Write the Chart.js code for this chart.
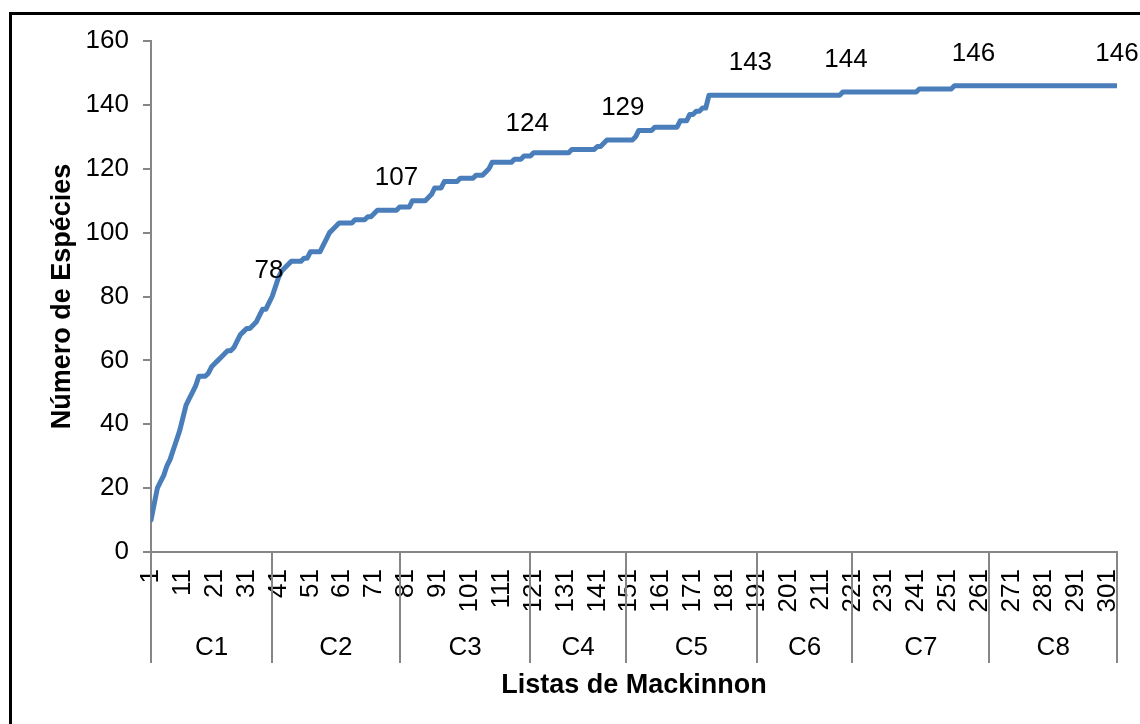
<!DOCTYPE html>
<html>
<head>
<meta charset="utf-8">
<script src="https://cdn.jsdelivr.net/npm/chart.js@4/dist/chart.umd.min.js"></script>
<style>
  html, body { margin: 0; padding: 0; background: #fff; overflow: hidden; }
  #frame { position: absolute; left: 9px; top: 12px; width: 1160px; height: 760px; border: 3px solid #000; box-sizing: border-box; }
  #chart { position: absolute; left: 0; top: 0; }
</style>
</head>
<body>
<div id="frame"></div>
<canvas id="chart" width="1140" height="724"></canvas>
<script>
// lista de Mackinnon / numero acumulado de especies (pontos onde a curva muda)
const listas = [
  1, 2, 3, 4, 5, 6, 7, 8, 9, 10,
  11, 12, 13, 14, 15, 16, 18, 19, 20, 21,
  22, 23, 24, 25, 26, 27, 28, 29, 30, 31,
  32, 33, 34, 35, 36, 37, 38, 39, 40, 41,
  42, 43, 44, 45, 48, 49, 50, 51, 54, 55,
  56, 57, 58, 59, 60, 64, 65, 68, 69, 70,
  71, 72, 78, 79, 82, 83, 87, 88, 89, 90,
  92, 93, 97, 98, 102, 103, 105, 106, 107, 108,
  114, 115, 117, 118, 120, 121, 132, 133, 140, 141,
  142, 143, 144, 152, 153, 154, 158, 159, 166, 167,
  169, 170, 171, 172, 173, 174, 175, 176, 217, 218,
  241, 242, 252, 253, 304
];
const especies = [
  10, 15, 20, 22, 24, 27, 29, 32, 35, 38,
  42, 46, 48, 50, 52, 55, 55, 56, 58, 59,
  60, 61, 62, 63, 63, 64, 66, 68, 69, 70,
  70, 71, 72, 74, 76, 76, 78, 80, 83, 86,
  88, 89, 90, 91, 91, 92, 92, 94, 94, 96,
  98, 100, 101, 102, 103, 103, 104, 104, 105, 105,
  106, 107, 107, 108, 108, 110, 110, 111, 112, 114,
  114, 116, 116, 117, 117, 118, 118, 119, 120, 122,
  122, 123, 123, 124, 124, 125, 125, 126, 126, 127,
  127, 128, 129, 129, 130, 132, 132, 133, 133, 135,
  135, 137, 137, 138, 138, 139, 139, 143, 143, 144,
  144, 145, 145, 146, 146
];

const marcasX = [1, 11, 21, 31, 41, 51, 61, 71, 81, 91, 101, 111, 121, 131, 141, 151,
  161, 171, 181, 191, 201, 211, 221, 231, 241, 251, 261, 271, 281, 291, 301];

const campanhas = ["C1", "C2", "C3", "C4", "C5", "C6", "C7", "C8"];
const limitesCampanha = [1, 39, 79, 120, 150, 191, 221, 264, 304];

const rotuloListas = [38, 78, 119, 149, 189, 219, 259, 304];
const rotuloValores = [78, 107, 124, 129, 143, 144, 146, 146];

const FONT = "'Liberation Sans', Arial, sans-serif";
const AXIS_COLOR = "#868686";

const campaignAxis = {
  id: "campaignAxis",
  afterDraw(chart) {
    const { ctx, chartArea, scales: { x } } = chart;
    const top = chartArea.bottom;
    ctx.save();
    ctx.strokeStyle = AXIS_COLOR;
    ctx.lineWidth = 2;
    limitesCampanha.forEach((l) => {
      const px = Math.round(x.getPixelForValue(l));
      ctx.beginPath();
      ctx.moveTo(px, top);
      ctx.lineTo(px, top + 111);
      ctx.stroke();
    });
    ctx.fillStyle = "#000";
    ctx.font = "26px " + FONT;
    ctx.textAlign = "center";
    ctx.textBaseline = "middle";
    campanhas.forEach((c, i) => {
      const mid = (x.getPixelForValue(limitesCampanha[i]) + x.getPixelForValue(limitesCampanha[i + 1])) / 2;
      ctx.fillText(c, mid, top + 96);
    });
    ctx.restore();
  },
};

const pointLabels = {
  id: "pointLabels",
  afterDatasetsDraw(chart) {
    const { ctx, scales: { x, y } } = chart;
    ctx.save();
    ctx.fillStyle = "#000";
    ctx.font = "26px " + FONT;
    ctx.textAlign = "center";
    ctx.textBaseline = "middle";
    rotuloListas.forEach((l, i) => {
      ctx.fillText(String(rotuloValores[i]), x.getPixelForValue(l), y.getPixelForValue(rotuloValores[i]) - 32);
    });
    ctx.restore();
  },
};

new Chart(document.getElementById("chart"), {
  type: "line",
  data: {
    datasets: [{
      label: "Número de Espécies",
      data: listas.map((l, i) => ({ x: l, y: especies[i] })),
      borderColor: "#4A7EBB",
      borderWidth: 5,
      borderCapStyle: "round",
      borderJoinStyle: "round",
      pointRadius: 0,
      tension: 0,
      fill: false,
    }],
  },
  options: {
    responsive: false,
    animation: false,
    devicePixelRatio: 1,
    layout: { padding: { top: 41, right: 23, left: 0, bottom: 0 } },
    plugins: { legend: { display: false }, tooltip: { enabled: false } },
    scales: {
      x: {
        type: "linear",
        min: 1,
        max: 304,
        afterBuildTicks: (scale) => { scale.ticks = marcasX.map((v) => ({ value: v })); },
        afterFit: (scale) => {
          scale.height = 172;
          scale.paddingLeft = 0;
          scale.paddingRight = 0;
        },
        grid: { drawOnChartArea: false, drawTicks: false },
        border: { color: AXIS_COLOR, width: 2 },
        ticks: {
          autoSkip: false,
          minRotation: 90,
          maxRotation: 90,
          padding: 17,
          color: "#000",
          font: { family: FONT, size: 26 },
        },
        title: {
          display: true,
          text: "Listas de Mackinnon",
          color: "#000",
          font: { family: FONT, size: 27, weight: "bold" },
          padding: { top: 0, bottom: 22 },
        },
      },
      y: {
        min: 0,
        max: 160,
        afterFit: (scale) => { scale.width = 151; },
        ticks: {
          stepSize: 20,
          padding: 14,
          color: "#000",
          font: { family: FONT, size: 26 },
        },
        grid: { drawOnChartArea: false, drawTicks: true, tickLength: 8, color: AXIS_COLOR, lineWidth: 2 },
        border: { color: AXIS_COLOR, width: 2 },
        title: {
          display: true,
          text: "Número de Espécies",
          color: "#000",
          font: { family: FONT, size: 27, weight: "bold" },
          padding: { top: 46, bottom: 0 },
        },
      },
    },
  },
  plugins: [campaignAxis, pointLabels],
});
</script>
</body>
</html>
